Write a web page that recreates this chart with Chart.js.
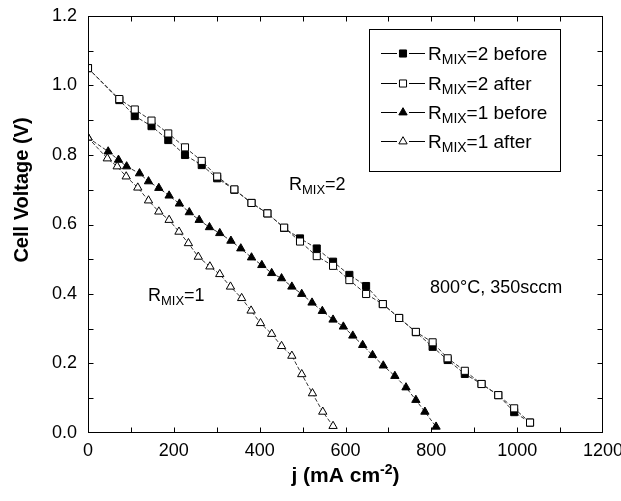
<!DOCTYPE html>
<html>
<head>
<meta charset="utf-8">
<script src="https://cdn.jsdelivr.net/npm/chart.js@4/dist/chart.umd.min.js"></script>
<style>
  body { margin: 0; background: #fff; }
  #wrap { width: 621px; height: 501px; }
</style>
</head>
<body>
<div id="wrap"><canvas id="myChart" width="621" height="501"></canvas></div>
<script>
// current density (mA cm-2) and cell voltage (V)
const r2J       = [0, 73, 109, 148, 187, 226, 265, 301, 341, 381, 418, 457, 494, 533, 571, 609, 648, 687, 725, 764, 803, 838, 878, 917, 956, 993, 1030];
const r2BeforeV = [1.05, 0.958, 0.912, 0.883, 0.843, 0.800, 0.771, 0.733, 0.700, 0.662, 0.632, 0.590, 0.560, 0.531, 0.493, 0.455, 0.423, 0.371, 0.331, 0.290, 0.248, 0.210, 0.170, 0.141, 0.109, 0.060, 0.030];
const r2AfterV  = [1.05, 0.961, 0.931, 0.899, 0.862, 0.822, 0.783, 0.738, 0.701, 0.662, 0.632, 0.591, 0.551, 0.509, 0.481, 0.440, 0.400, 0.371, 0.331, 0.291, 0.261, 0.215, 0.179, 0.141, 0.109, 0.071, 0.030];

const r1BeforeJ = [0, 47, 71, 90, 120, 141, 165, 189, 213, 236, 259, 283, 307, 333, 356, 381, 405, 428, 451, 475, 498, 522, 546, 571, 595, 617, 640, 663, 688, 715, 741, 764, 785, 811];
const r1BeforeV = [0.85, 0.810, 0.786, 0.767, 0.747, 0.724, 0.705, 0.683, 0.660, 0.635, 0.613, 0.592, 0.575, 0.553, 0.531, 0.505, 0.483, 0.460, 0.445, 0.421, 0.400, 0.375, 0.351, 0.326, 0.306, 0.280, 0.253, 0.224, 0.194, 0.164, 0.131, 0.095, 0.061, 0.018];

const r1AfterJ  = [0, 45, 68, 89, 116, 141, 165, 189, 212, 234, 257, 284, 307, 332, 358, 380, 402, 428, 451, 475, 498, 523, 547, 571];
const r1AfterV  = [0.85, 0.790, 0.767, 0.738, 0.706, 0.669, 0.637, 0.613, 0.579, 0.546, 0.507, 0.479, 0.457, 0.421, 0.388, 0.352, 0.316, 0.285, 0.250, 0.222, 0.169, 0.114, 0.061, 0.020];

const seriesNames = ['2 before', '2 after', '1 before', '1 after'];
const xTicks = [0, 200, 400, 600, 800, 1000, 1200];
const yTicks = [0.0, 0.2, 0.4, 0.6, 0.8, 1.0, 1.2];

const FONT = '"Liberation Sans", Arial, Helvetica, sans-serif';

function pts(xs, ys) { return xs.map((v, i) => ({ x: v, y: ys[i] })); }

function ds(label, data, style, fill, order) {
  return {
    label: label,
    data: data,
    showLine: true,
    borderColor: '#333',
    borderWidth: 1,
    borderDash: [4, 2],
    pointStyle: style,
    pointRadius: style == 'rect' ? 5 : 4.8,
    pointBackgroundColor: fill,
    pointBorderColor: '#000',
    pointBorderWidth: 1,
    order: order
  };
}

// text with sub/superscript pieces: [text, size, bold, dy]
function rich(ctx, parts, x, y) {
  ctx.textAlign = 'left';
  ctx.textBaseline = 'alphabetic';
  for (const p of parts) {
    ctx.font = (p[2] ? 'bold ' : '') + p[1] + 'px ' + FONT;
    ctx.fillText(p[0], x, y + (p[3] || 0));
    x += ctx.measureText(p[0]).width;
  }
  return x;
}
function richWidth(ctx, parts) {
  let w = 0;
  for (const p of parts) {
    ctx.font = (p[2] ? 'bold ' : '') + p[1] + 'px ' + FONT;
    w += ctx.measureText(p[0]).width;
  }
  return w;
}

function marker(ctx, style, fill, x, y) {
  ctx.beginPath();
  if (style == 'rect') {
    const s = Math.SQRT1_2 * 5;
    ctx.rect(x - s, y - s, 2 * s, 2 * s);
  } else {
    const r = 4.8;
    for (let k = 0; k < 3; k++) {
      const a = k * 2 * Math.PI / 3;
      const px = x + Math.sin(a) * r, py = y - Math.cos(a) * r;
      if (k == 0) ctx.moveTo(px, py); else ctx.lineTo(px, py);
    }
    ctx.closePath();
  }
  ctx.fillStyle = fill;
  ctx.fill();
  ctx.strokeStyle = '#000';
  ctx.lineWidth = 1;
  ctx.stroke();
}

const deco = {
  id: 'deco',
  afterDraw(chart) {
    const ctx = chart.ctx, a = chart.chartArea;
    const xs = chart.scales.x, ys = chart.scales.y;
    const L = Math.round(a.left) + 0.5, R = Math.round(a.right) - 0.5;
    const T = Math.round(a.top) + 0.5, B = Math.round(a.bottom) - 0.5;
    ctx.save();
    ctx.strokeStyle = '#000';
    ctx.lineWidth = 1;
    ctx.setLineDash([]);
    ctx.strokeRect(L, T, R - L, B - T);

    // inward ticks on all four sides
    ctx.beginPath();
    for (let v = 100; v < 1200; v += 100) {
      const px = Math.round(xs.getPixelForValue(v)) + 0.5;
      ctx.moveTo(px, B); ctx.lineTo(px, B - 5);
      ctx.moveTo(px, T); ctx.lineTo(px, T + 5);
    }
    for (let k = 1; k < 12; k++) {
      const py = Math.round(ys.getPixelForValue(k / 10)) + 0.5;
      ctx.moveTo(L, py); ctx.lineTo(L + 5, py);
      ctx.moveTo(R, py); ctx.lineTo(R - 5, py);
    }
    ctx.stroke();

    ctx.fillStyle = '#000';
    // x title
    const xt = [['j (mA cm', 21, true], ['-2', 14, true, -8], [')', 21, true]];
    const cx = (a.left + a.right) / 2;
    rich(ctx, xt, cx - richWidth(ctx, xt) / 2, 482);

    // y title
    ctx.save();
    ctx.translate(28, 190);
    ctx.rotate(-Math.PI / 2);
    ctx.font = 'bold 20px ' + FONT;
    ctx.textAlign = 'center';
    ctx.fillText('Cell Voltage (V)', 0, 0);
    ctx.restore();

    // annotations
    rich(ctx, [['R', 18], ['MIX', 13, false, 4], ['=2', 18]], 289, 190);
    rich(ctx, [['R', 18], ['MIX', 13, false, 4], ['=1', 18]], 148, 301);
    rich(ctx, [['800°C, 350sccm', 18]], 430, 293);

    // legend box
    ctx.fillStyle = '#fff';
    ctx.fillRect(369.5, 29.5, 191, 142);
    ctx.strokeRect(369.5, 29.5, 191, 142);
    const rows = [53, 83, 112, 141];
    const styles = [['rect', '#000'], ['rect', '#fff'], ['triangle', '#000'], ['triangle', '#fff']];
    rows.forEach((ry, i) => {
      ctx.beginPath();
      ctx.moveTo(381, ry + 0.5); ctx.lineTo(397, ry + 0.5);
      ctx.moveTo(409, ry + 0.5); ctx.lineTo(425, ry + 0.5);
      ctx.strokeStyle = '#000';
      ctx.stroke();
      marker(ctx, styles[i][0], styles[i][1], 403, ry + 0.5);
      ctx.fillStyle = '#000';
      rich(ctx, [['R', 19], ['MIX', 14, false, 4], ['=' + seriesNames[i], 19]], 428, ry + 7);
    });
    ctx.restore();
  }
};

new Chart('myChart', {
  type: 'scatter',
  data: {
    datasets: [
      ds('RMIX=2 before', pts(r2J, r2BeforeV), 'rect', '#000', 2),
      ds('RMIX=2 after', pts(r2J, r2AfterV), 'rect', '#fff', 1),
      ds('RMIX=1 before', pts(r1BeforeJ, r1BeforeV), 'triangle', '#000', 2),
      ds('RMIX=1 after', pts(r1AfterJ, r1AfterV), 'triangle', '#fff', 1)
    ]
  },
  options: {
    responsive: false,
    animation: false,
    layout: { padding: { top: 16, right: 18, left: 0, bottom: 0 } },
    plugins: { legend: { display: false }, tooltip: { enabled: false } },
    scales: {
      x: {
        type: 'linear', min: 0, max: 1200,
        grid: { display: false, drawTicks: false },
        border: { display: false },
        afterBuildTicks: s => { s.ticks = xTicks.map(v => ({ value: v })); },
        ticks: { color: '#000', padding: 7, maxRotation: 0, font: { family: FONT, size: 18 },
                 callback: v => String(v) },
        afterFit: s => { s.height = 68; s.paddingLeft = 0; s.paddingRight = 0; }
      },
      y: {
        type: 'linear', min: 0, max: 1.2,
        grid: { display: false, drawTicks: false },
        border: { display: false },
        afterBuildTicks: s => { s.ticks = yTicks.map(v => ({ value: v })); },
        ticks: { color: '#000', padding: 11, font: { family: FONT, size: 18 },
                 callback: v => Number(v).toFixed(1) },
        afterFit: s => { s.width = 88; s.paddingTop = 0; s.paddingBottom = 0; }
      }
    }
  },
  plugins: [deco]
});
</script>
</body>
</html>
